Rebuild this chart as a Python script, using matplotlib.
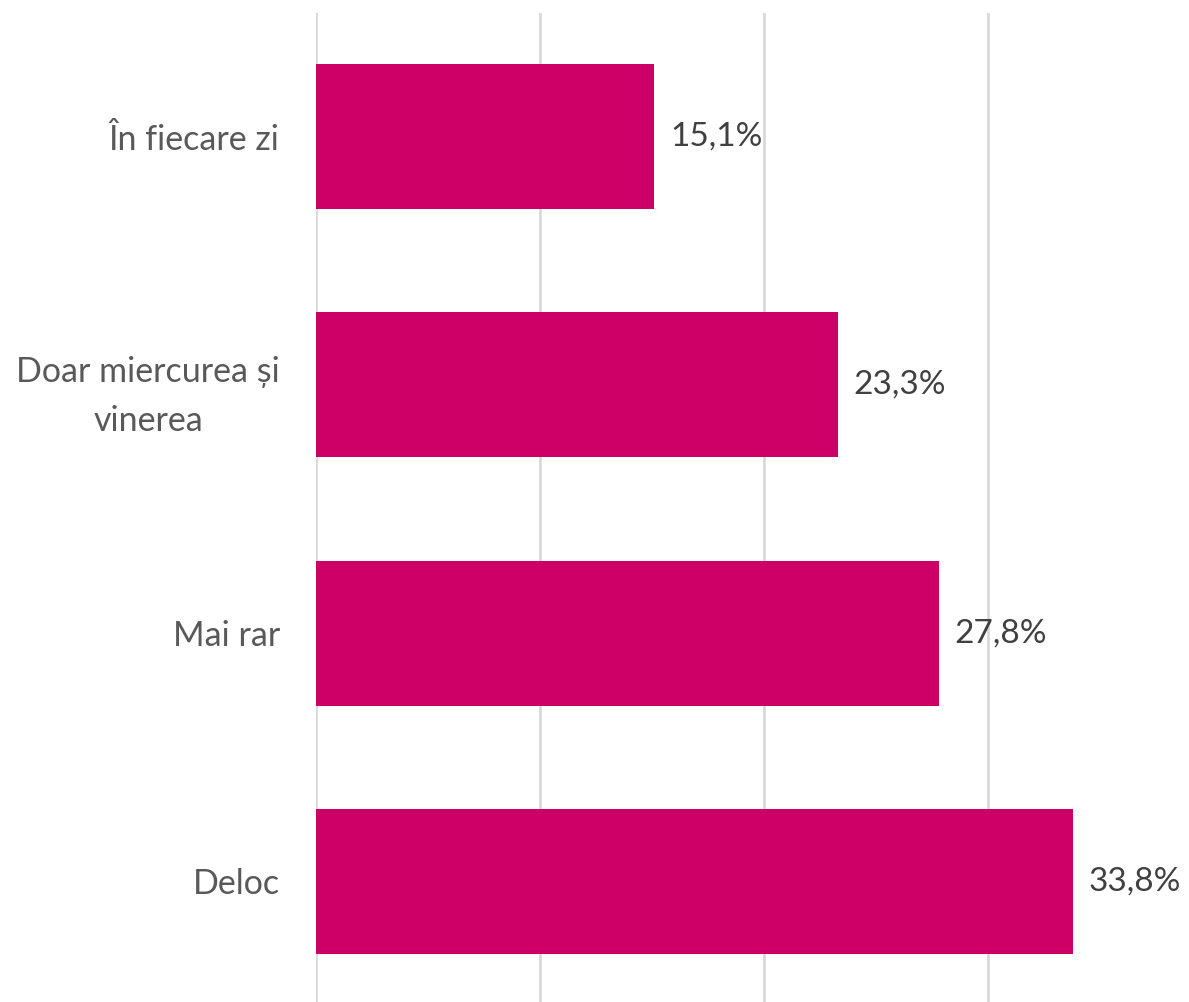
import matplotlib.pyplot as plt

# Date
categorii = ['În fiecare zi', 'Doar miercurea și\nvinerea', 'Mai rar', 'Deloc']
procente = [15.1, 23.3, 27.8, 33.8]
etichete = ['15,1%', '23,3%', '27,8%', '33,8%']

plt.rcParams['font.family'] = ['Lato', 'DejaVu Sans']

fig = plt.figure(figsize=(11.89, 10.02), dpi=100)
ax = fig.add_axes([316 / 1189, -0.0035, 1 - 316 / 1189, 1 - 12.5 / 1002 + 0.0035])

y = range(len(categorii))
ax.barh(y, procente, height=0.585, color='#CC0066', zorder=2)

for yi, v, t in zip(y, procente, etichete):
    ax.text(v + 0.7, yi, t, va='center', ha='left', fontsize=24, color='#404040')

ax.set_xlim(0, 38.97)
ax.set_ylim(3.5, -0.5)
ax.set_xticks([0, 10, 20, 30])
ax.set_xticklabels([])
ax.set_yticks(list(y))
ax.set_yticklabels(categorii, fontsize=24.5, color='#595959', ha='right',
                   multialignment='center', linespacing=1.65)
ax.tick_params(axis='y', length=0, pad=26)
ax.tick_params(axis='x', length=0)
ax.grid(axis='x', color='#D9D9D9', linewidth=2, zorder=0)
for s in ax.spines.values():
    s.set_visible(False)

fig.savefig('out.png', dpi=100)
